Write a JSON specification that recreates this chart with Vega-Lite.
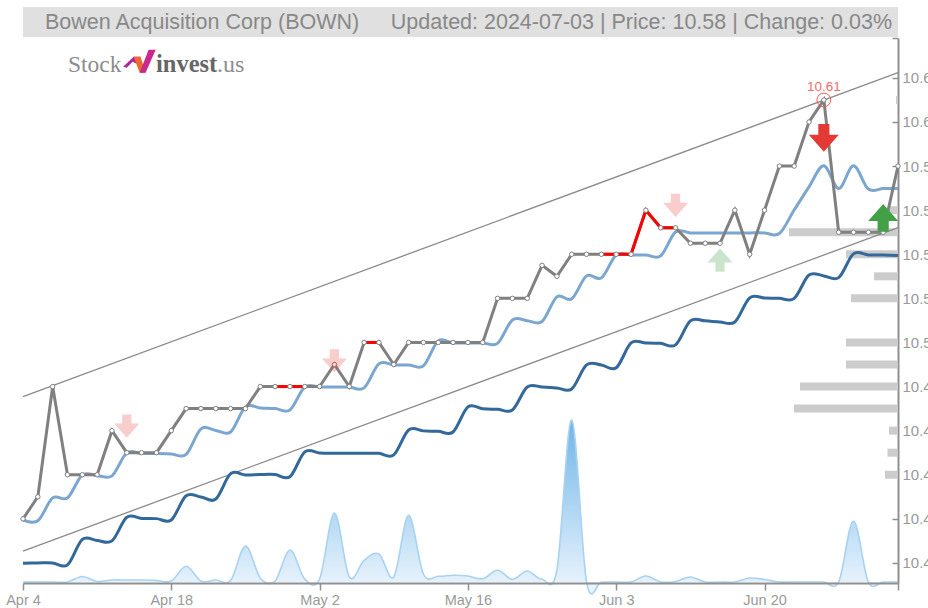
{
"$schema":"https://vega.github.io/schema/vega-lite/v6.json",
"width":875,"height":545,
"autosize":"none",
"padding":{"left":23,"top":38,"right":30,"bottom":25},
"background":"white",
"config":{"view":{"stroke":null},"text":{"font":"Liberation Sans"}},
"datasets":{
"days":[
{"date":"Apr 4","close":10.42,"fast":10.4195,"slow":10.3999,"volume":0},
{"date":"Apr 5","close":10.43,"fast":10.4191,"slow":10.4000,"volume":0},
{"date":"Apr 8","close":10.48,"fast":10.4295,"slow":10.4000,"volume":0},
{"date":"Apr 9","close":10.44,"fast":10.4295,"slow":10.3991,"volume":0},
{"date":"Apr 10","close":10.44,"fast":10.4399,"slow":10.4107,"volume":550},
{"date":"Apr 11","close":10.44,"fast":10.4396,"slow":10.4102,"volume":50},
{"date":"Apr 12","close":10.46,"fast":10.4395,"slow":10.4100,"volume":200},
{"date":"Apr 15","close":10.45,"fast":10.4499,"slow":10.4207,"volume":200},
{"date":"Apr 16","close":10.45,"fast":10.4496,"slow":10.4202,"volume":200},
{"date":"Apr 17","close":10.45,"fast":10.4496,"slow":10.4201,"volume":150},
{"date":"Apr 18","close":10.46,"fast":10.4494,"slow":10.4195,"volume":100},
{"date":"Apr 19","close":10.47,"fast":10.4492,"slow":10.4305,"volume":1570},
{"date":"Apr 22","close":10.47,"fast":10.4608,"slow":10.4299,"volume":100},
{"date":"Apr 23","close":10.47,"fast":10.4601,"slow":10.4290,"volume":200},
{"date":"Apr 24","close":10.47,"fast":10.4594,"slow":10.4405,"volume":150},
{"date":"Apr 25","close":10.47,"fast":10.4708,"slow":10.4399,"volume":3600},
{"date":"Apr 26","close":10.48,"fast":10.4703,"slow":10.4401,"volume":400},
{"date":"Apr 29","close":10.48,"fast":10.4700,"slow":10.4401,"volume":100},
{"date":"Apr 30","close":10.48,"fast":10.4694,"slow":10.4391,"volume":3200},
{"date":"May 1","close":10.48,"fast":10.4798,"slow":10.4504,"volume":300},
{"date":"May 2","close":10.48,"fast":10.4798,"slow":10.4499,"volume":300},
{"date":"May 3","close":10.49,"fast":10.4798,"slow":10.4498,"volume":6900},
{"date":"May 6","close":10.48,"fast":10.4798,"slow":10.4498,"volume":500},
{"date":"May 7","close":10.50,"fast":10.4794,"slow":10.4498,"volume":2170},
{"date":"May 8","close":10.50,"fast":10.4903,"slow":10.4497,"volume":2800},
{"date":"May 9","close":10.49,"fast":10.4898,"slow":10.4490,"volume":500},
{"date":"May 10","close":10.50,"fast":10.4898,"slow":10.4603,"volume":6670},
{"date":"May 13","close":10.50,"fast":10.4894,"slow":10.4599,"volume":800},
{"date":"May 14","close":10.50,"fast":10.5007,"slow":10.4597,"volume":570},
{"date":"May 15","close":10.50,"fast":10.4998,"slow":10.4594,"volume":670},
{"date":"May 16","close":10.50,"fast":10.4998,"slow":10.4708,"volume":600},
{"date":"May 17","close":10.50,"fast":10.4998,"slow":10.4699,"volume":330},
{"date":"May 20","close":10.52,"fast":10.4996,"slow":10.4697,"volume":1170},
{"date":"May 21","close":10.52,"fast":10.5102,"slow":10.4694,"volume":270},
{"date":"May 22","close":10.52,"fast":10.5099,"slow":10.4798,"volume":1100},
{"date":"May 23","close":10.535,"fast":10.5095,"slow":10.4798,"volume":270},
{"date":"May 24","close":10.53,"fast":10.5207,"slow":10.4794,"volume":1200},
{"date":"May 28","close":10.54,"fast":10.5198,"slow":10.4789,"volume":16200},
{"date":"May 29","close":10.54,"fast":10.5302,"slow":10.4898,"volume":0},
{"date":"May 30","close":10.54,"fast":10.5293,"slow":10.4898,"volume":0},
{"date":"Jun 3","close":10.54,"fast":10.5397,"slow":10.4885,"volume":0},
{"date":"Jun 4","close":10.54,"fast":10.5397,"slow":10.4998,"volume":0},
{"date":"Jun 5","close":10.56,"fast":10.5397,"slow":10.4998,"volume":600},
{"date":"Jun 6","close":10.552,"fast":10.5393,"slow":10.4996,"volume":0},
{"date":"Jun 7","close":10.552,"fast":10.5501,"slow":10.4989,"volume":50},
{"date":"Jun 10","close":10.545,"fast":10.5497,"slow":10.5098,"volume":500},
{"date":"Jun 11","close":10.545,"fast":10.5497,"slow":10.5098,"volume":0},
{"date":"Jun 12","close":10.545,"fast":10.5497,"slow":10.5093,"volume":0},
{"date":"Jun 13","close":10.56,"fast":10.5497,"slow":10.5093,"volume":0},
{"date":"Jun 14","close":10.54,"fast":10.5497,"slow":10.5202,"volume":400},
{"date":"Jun 20","close":10.56,"fast":10.5497,"slow":10.5202,"volume":250},
{"date":"Jun 21","close":10.58,"fast":10.5494,"slow":10.5200,"volume":0},
{"date":"Jun 24","close":10.58,"fast":10.5601,"slow":10.5200,"volume":0},
{"date":"Jun 25","close":10.60,"fast":10.5706,"slow":10.5306,"volume":0},
{"date":"Jun 26","close":10.61,"fast":10.5801,"slow":10.5302,"volume":0},
{"date":"Jun 27","close":10.55,"fast":10.5698,"slow":10.5294,"volume":0},
{"date":"Jun 28","close":10.55,"fast":10.5801,"slow":10.5402,"volume":6100},
{"date":"Jul 1","close":10.55,"fast":10.5696,"slow":10.5397,"volume":0},
{"date":"Jul 2","close":10.55,"fast":10.5698,"slow":10.5397,"volume":0},
{"date":"Jul 3","close":10.58,"fast":10.5698,"slow":10.5395,"volume":0}
],
"channel":[
{"date":"Apr 4","upper":10.4754,"lower":10.4054},
{"date":"Jul 3","upper":10.6224,"lower":10.5521}
],
"drops":[
{"date":"Apr 29","close":10.48,"run":"a"},{"date":"Apr 30","close":10.48,"run":"a"},{"date":"May 1","close":10.48,"run":"a"},
{"date":"May 7","close":10.50,"run":"b"},{"date":"May 8","close":10.50,"run":"b"},
{"date":"May 30","close":10.54,"run":"c"},{"date":"Jun 3","close":10.54,"run":"c"},{"date":"Jun 4","close":10.54,"run":"c"},{"date":"Jun 5","close":10.56,"run":"c"},{"date":"Jun 6","close":10.552,"run":"c"},{"date":"Jun 7","close":10.552,"run":"c"}
],
"sellMinor":[{"date":"Apr 15","level":10.4621},{"date":"May 3","level":10.4916},{"date":"Jun 7","level":10.5622}],
"buyMinor":[{"date":"Jun 12","level":10.5374}],
"sellMajor":[{"date":"Jun 26","level":10.5928}],
"buyMajor":[{"date":"Jul 2","level":10.5565}],
"peak":[{"date":"Jun 26","close":10.61,"label":"10.61"}],
"profile":[
{"price":10.61,"shares":2},{"price":10.56,"shares":10},{"price":10.55,"shares":109},{"price":10.54,"shares":52},
{"price":10.53,"shares":24},{"price":10.52,"shares":47},{"price":10.50,"shares":52},{"price":10.49,"shares":52},
{"price":10.48,"shares":98},{"price":10.47,"shares":104},{"price":10.46,"shares":9},{"price":10.45,"shares":10.5},{"price":10.44,"shares":13}
]
},
"resolve":{"scale":{"x":"independent","y":"independent"}},
"layer":[
{
"data":{"name":"profile"},
"mark":{"type":"rule","strokeWidth":8,"color":"#cccccc"},
"encoding":{
"x":{"field":"shares","type":"quantitative","scale":{"domain":[0,875],"reverse":true},"axis":null},
"x2":{"datum":0},
"y":{"field":"price","type":"quantitative","scale":{"domain":[10.3909,10.6381],"nice":false,"zero":false},"axis":null}
}
},
{
"data":{"name":"days"},
"layer":[
{"mark":{"type":"area","interpolate":"cardinal","line":false,"opacity":1,
"fill":{"x1":0,"y1":0,"x2":0,"y2":1,"gradient":"linear","stops":[{"offset":0,"color":"#6fb5e8"},{"offset":1,"color":"#eef6fd"}]}},
"encoding":{"y":{"field":"volume","type":"quantitative","axis":null,"scale":{"domain":[-100,54400],"nice":false,"zero":false}}}},
{"mark":{"type":"line","interpolate":"cardinal","stroke":"#a9d2f1","strokeWidth":1.6},
"encoding":{"y":{"field":"volume","type":"quantitative","axis":null}}}
],
"encoding":{
"x":{"field":"date","type":"ordinal","axis":null,"sort":null,
"scale":{"type":"point","padding":0,"domain":["Apr 4","Apr 5","Apr 8","Apr 9","Apr 10","Apr 11","Apr 12","Apr 15","Apr 16","Apr 17","Apr 18","Apr 19","Apr 22","Apr 23","Apr 24","Apr 25","Apr 26","Apr 29","Apr 30","May 1","May 2","May 3","May 6","May 7","May 8","May 9","May 10","May 13","May 14","May 15","May 16","May 17","May 20","May 21","May 22","May 23","May 24","May 28","May 29","May 30","Jun 3","Jun 4","Jun 5","Jun 6","Jun 7","Jun 10","Jun 11","Jun 12","Jun 13","Jun 14","Jun 20","Jun 21","Jun 24","Jun 25","Jun 26","Jun 27","Jun 28","Jul 1","Jul 2","Jul 3"]}}
}
},
{
"layer":[
{"data":{"values":[{"from":"Apr 4","to":"Jul 3"}]},
"mark":{"type":"rect","color":"#e0e0e0"},
"encoding":{
"x":{"field":"from","type":"ordinal"},"x2":{"field":"to"},
"y":{"datum":10.6522},"y2":{"datum":10.6386}}},
{"data":{"values":[{"t":"Bowen Acquisition Corp (BOWN)"}]},
"mark":{"type":"text","align":"left","baseline":"middle","dx":22,"fontSize":21.5,"color":"#888888"},
"encoding":{"x":{"datum":"Apr 4"},"y":{"datum":10.6450},"text":{"field":"t"}}},
{"data":{"values":[{"t":"Updated: 2024-07-03 | Price: 10.58 | Change: 0.03%"}]},
"mark":{"type":"text","align":"right","baseline":"middle","dx":-6,"fontSize":21.5,"color":"#888888"},
"encoding":{"x":{"datum":"Jul 3"},"y":{"datum":10.6450},"text":{"field":"t"}}},
{"data":{"values":[{"t":"Stock"}]},
"mark":{"type":"text","font":"Liberation Serif","align":"left","baseline":"alphabetic","dx":45,"fontSize":23.5,"color":"#8c8c8c"},
"encoding":{"x":{"datum":"Apr 4"},"y":{"datum":10.6227},"text":{"field":"t"}}},
{"data":{"values":[{"t":"invest"}]},
"mark":{"type":"text","font":"Liberation Serif","fontWeight":"bold","align":"left","baseline":"alphabetic","dx":133,"fontSize":24.5,"color":"#666666"},
"encoding":{"x":{"datum":"Apr 4"},"y":{"datum":10.6227},"text":{"field":"t"}}},
{"data":{"values":[{"t":".us"}]},
"mark":{"type":"text","font":"Liberation Serif","align":"left","baseline":"alphabetic","dx":194,"fontSize":24,"color":"#8c8c8c"},
"encoding":{"x":{"datum":"Apr 4"},"y":{"datum":10.6227},"text":{"field":"t"}}},
{"data":{"values":[{"t":"logo"}]},
"mark":{"type":"point","filled":true,"opacity":1,"size":1024,"fill":"#b5259a","stroke":null,
"shape":"M-1.03,0.31 L-0.375,-0.31 L0.06,-0.31 L-0.19,0.125 L-0.44,0 L-0.81,0.375 Z"},
"encoding":{"x":{"datum":"Apr 16"},"y":{"datum":10.6273},"xOffset":{"value":-2}}},
{"data":{"values":[{"t":"logo"}]},
"mark":{"type":"point","filled":true,"opacity":1,"size":1024,"fill":"#ee6a2c","stroke":null,
"shape":"M-0.375,-0.31 L0.06,-0.31 L0.375,0.69 L0,0.69 Z"},
"encoding":{"x":{"datum":"Apr 16"},"y":{"datum":10.6273},"xOffset":{"value":-2}}},
{"data":{"values":[{"t":"logo"}]},
"mark":{"type":"point","filled":true,"opacity":1,"size":1024,"fill":"#c9288f","stroke":null,
"shape":"M0.56,-0.75 L1,-0.75 L0.375,0.69 L0,0.69 Z"},
"encoding":{"x":{"datum":"Apr 16"},"y":{"datum":10.6273},"xOffset":{"value":-2}}},
{"data":{"name":"channel"},"mark":{"type":"line","stroke":"#8a8a8a","strokeWidth":1.3},
"encoding":{"y":{"field":"upper","type":"quantitative"}}},
{"data":{"name":"channel"},"mark":{"type":"line","stroke":"#8a8a8a","strokeWidth":1.3},
"encoding":{"y":{"field":"lower","type":"quantitative"}}},
{"data":{"name":"days"},"mark":{"type":"line","interpolate":"cardinal","stroke":"#7ba6d0","strokeWidth":3},
"encoding":{"y":{"field":"fast","type":"quantitative"}}},
{"data":{"name":"days"},"mark":{"type":"line","interpolate":"cardinal","stroke":"#33689b","strokeWidth":3},
"encoding":{"y":{"field":"slow","type":"quantitative"}}},
{"data":{"name":"days"},"mark":{"type":"line","stroke":"#808080","strokeWidth":3},
"encoding":{"y":{"field":"close","type":"quantitative"}}},
{"data":{"name":"drops"},"mark":{"type":"line","stroke":"#ff0000","strokeWidth":3},
"encoding":{"y":{"field":"close","type":"quantitative"},"detail":{"field":"run"}}},
{"data":{"name":"days"},"mark":{"type":"point","filled":true,"opacity":1,"fill":"white","stroke":"#808080","strokeWidth":1,"size":20},
"encoding":{"y":{"field":"close","type":"quantitative"}}},
{"data":{"name":"peak"},"mark":{"type":"point","opacity":1,"stroke":"#f05a5a","strokeWidth":1,"size":190},
"encoding":{"y":{"field":"close","type":"quantitative"}}},
{"data":{"name":"peak"},"mark":{"type":"text","dy":-13,"fontSize":13.5,"color":"#f26a6a"},
"encoding":{"y":{"field":"close","type":"quantitative"},"text":{"field":"label"}}},
{"data":{"name":"sellMinor"},"mark":{"type":"point","filled":true,"opacity":0.25,"fill":"#e53935","stroke":null,"size":625,
"shape":"M-0.37,-0.93 L0.37,-0.93 L0.37,-0.2 L1,-0.2 L0,0.93 L-1,-0.2 L-0.37,-0.2 Z"},
"encoding":{"y":{"field":"level","type":"quantitative"}}},
{"data":{"name":"buyMinor"},"mark":{"type":"point","filled":true,"opacity":0.28,"fill":"#43a047","stroke":null,"size":625,
"shape":"M-0.37,0.93 L0.37,0.93 L0.37,0.2 L1,0.2 L0,-0.93 L-1,0.2 L-0.37,0.2 Z"},
"encoding":{"y":{"field":"level","type":"quantitative"}}},
{"data":{"name":"sellMajor"},"mark":{"type":"point","filled":true,"opacity":1,"fill":"#e53935","stroke":null,"size":900,
"shape":"M-0.37,-0.93 L0.37,-0.93 L0.37,-0.2 L1,-0.2 L0,0.93 L-1,-0.2 L-0.37,-0.2 Z"},
"encoding":{"y":{"field":"level","type":"quantitative"}}},
{"data":{"name":"buyMajor"},"mark":{"type":"point","filled":true,"opacity":1,"fill":"#43a047","stroke":null,"size":900,
"shape":"M-0.37,0.93 L0.37,0.93 L0.37,0.2 L1,0.2 L0,-0.93 L-1,0.2 L-0.37,0.2 Z"},
"encoding":{"y":{"field":"level","type":"quantitative"}}}
],
"encoding":{
"x":{"field":"date","type":"ordinal","sort":null,
"scale":{"type":"point","padding":0,"domain":["Apr 4","Apr 5","Apr 8","Apr 9","Apr 10","Apr 11","Apr 12","Apr 15","Apr 16","Apr 17","Apr 18","Apr 19","Apr 22","Apr 23","Apr 24","Apr 25","Apr 26","Apr 29","Apr 30","May 1","May 2","May 3","May 6","May 7","May 8","May 9","May 10","May 13","May 14","May 15","May 16","May 17","May 20","May 21","May 22","May 23","May 24","May 28","May 29","May 30","Jun 3","Jun 4","Jun 5","Jun 6","Jun 7","Jun 10","Jun 11","Jun 12","Jun 13","Jun 14","Jun 20","Jun 21","Jun 24","Jun 25","Jun 26","Jun 27","Jun 28","Jul 1","Jul 2","Jul 3"]},
"axis":{"title":null,"values":["Apr 4","Apr 18","May 2","May 16","Jun 3","Jun 20","Jul 3"],"labelExpr":"datum.value=='Jul 3'?'':datum.value","labelAngle":0,"labelFont":"Liberation Sans","labelFontSize":14.5,"labelColor":"#999999","labelPadding":3,"labelOverlap":false,"labelBound":false,"labelFlush":false,"tickColor":"#909090","tickSize":7,"tickWidth":1.5,"domainColor":"#909090","domainWidth":2,"grid":false}},
"y":{"type":"quantitative",
"scale":{"domain":[10.3909,10.6381],"nice":false,"zero":false},
"axis":{"title":null,"orient":"right","values":[10.40,10.42,10.44,10.46,10.48,10.50,10.52,10.54,10.56,10.58,10.60,10.62,10.6381],"labelExpr":"datum.value>10.63?'':format(datum.value,'.2f')","labelFont":"Liberation Sans","labelFontSize":15,"labelColor":"#999999","labelPadding":10,"labelOverlap":false,"labelBound":false,"tickColor":"#909090","tickSize":-6,"tickWidth":1.5,"domainColor":"#909090","domainWidth":2,"grid":false}}
}
}
]
}
